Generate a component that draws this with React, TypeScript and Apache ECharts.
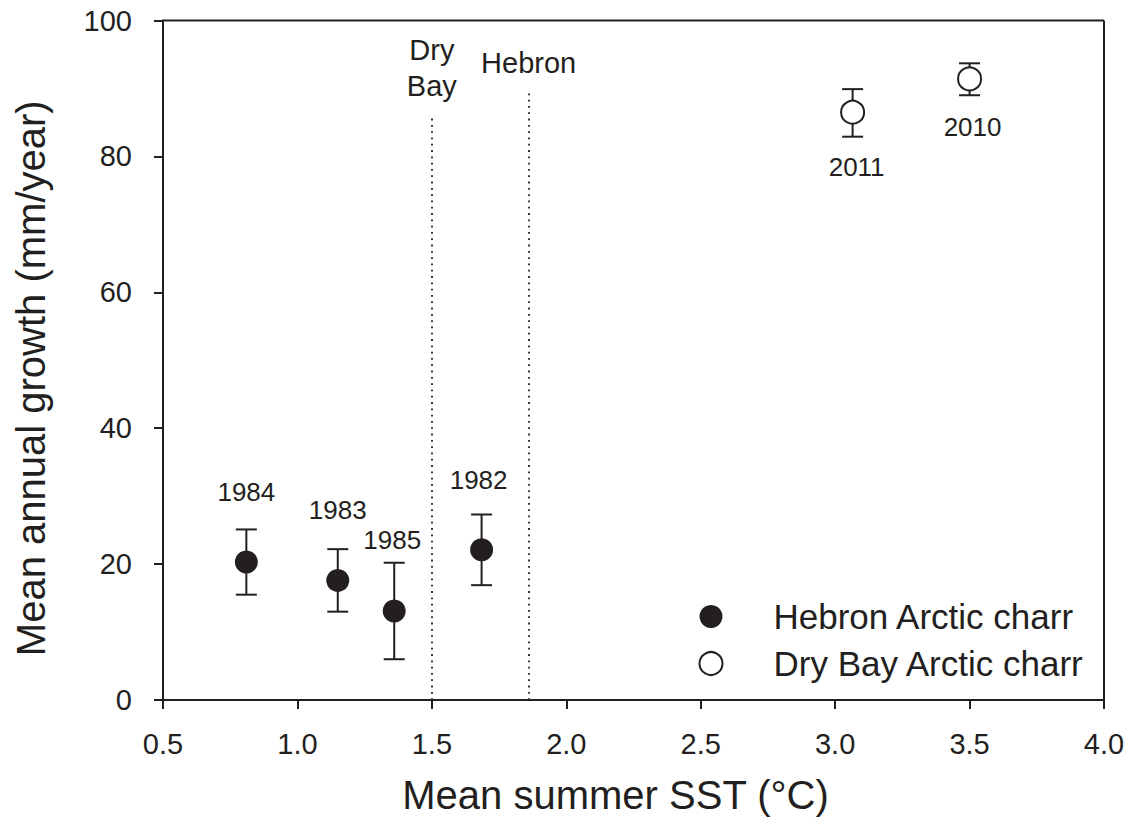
import React, { useEffect, useRef } from "react";
import * as echarts from "echarts";

const hebronYears = ["1984", "1983", "1985", "1982"];
const hebronSST = [0.81, 1.15, 1.36, 1.685];
const hebronGrowth = [20.3, 17.6, 13.1, 22.1];
const hebronLow = [15.5, 13.0, 6.0, 16.9];
const hebronHigh = [25.1, 22.2, 20.2, 27.3];

const dryBayYears = ["2011", "2010"];
const dryBaySST = [3.065, 3.5];
const dryBayGrowth = [86.5, 91.4];
const dryBayLow = [82.9, 89.0];
const dryBayHigh = [89.9, 93.7];

const refLineNames = ["Dry\nBay", "Hebron"];
const refLineSST = [1.5, 1.86];
const refLineTop = [86.2, 89.6];

const xTicks = [0.5, 1.0, 1.5, 2.0, 2.5, 3.0, 3.5, 4.0];
const yTicks = [0, 20, 40, 60, 80, 100];

const hebronLabelOffsets = [[0, -70], [0, -70], [-2, -71], [-3, -70]];
const dryBayLabelOffsets = [[4, 55], [3, 48]];

const INK = "#231f20";
const FONT = "'Liberation Sans', Arial, sans-serif";

export default function App() {
  const ref = useRef<HTMLDivElement>(null);
  useEffect(() => {
    if (!ref.current) return;
    const chart = echarts.init(ref.current, undefined, { renderer: "svg" });

    const errData = [
      ...hebronSST.map((x, i) => [x, hebronLow[i], hebronHigh[i]]),
      ...dryBaySST.map((x, i) => [x, dryBayLow[i], dryBayHigh[i]]),
    ];

    const option: any = {
      animation: false,
      textStyle: { fontFamily: FONT, color: INK },
      grid: { left: 163, right: 27, top: 20.5, bottom: 133, show: false },
      xAxis: {
        type: "value",
        min: xTicks[0],
        max: xTicks[xTicks.length - 1],
        interval: 0.5,
        name: "Mean summer SST (°C)",
        nameLocation: "middle",
        nameGap: 75,
        nameTextStyle: { fontSize: 40, color: INK, fontFamily: FONT, padding: [0, 36, 0, 0] },
        axisLine: { show: true, onZero: false, lineStyle: { color: INK, width: 2 } },
        axisTick: { show: true, inside: false, length: 9, lineStyle: { color: INK, width: 2 } },
        axisLabel: {
          fontSize: 29,
          color: INK,
          fontFamily: FONT,
          margin: 29,
          formatter: (v: number) => v.toFixed(1),
        },
        splitLine: { show: false },
      },
      yAxis: {
        type: "value",
        min: yTicks[0],
        max: yTicks[yTicks.length - 1],
        interval: 20,
        name: "Mean annual growth (mm/year)",
        nameLocation: "middle",
        nameGap: 112,
        nameRotate: 90,
        nameTextStyle: { fontSize: 40, color: INK, fontFamily: FONT, padding: [0, 36, 0, 0] },
        axisLine: { show: true, onZero: false, lineStyle: { color: INK, width: 2 } },
        axisTick: { show: true, inside: false, length: 9, lineStyle: { color: INK, width: 2 } },
        axisLabel: { fontSize: 29, color: INK, fontFamily: FONT, margin: 31 },
        splitLine: { show: false },
      },
      legend: {
        orient: "vertical",
        left: 693.5,
        top: 594,
        itemWidth: 23,
        itemHeight: 23,
        itemGap: 12,
        icon: "circle",
        data: ["Hebron Arctic charr", "Dry Bay Arctic charr"],
        textStyle: { fontSize: 35, color: INK, fontFamily: FONT, padding: [0, 0, 0, 46] },
      },
      graphic: [
        {
          type: "group",
          silent: true,
          children: [
            { type: "line", shape: { x1: 163, y1: 20.5, x2: 1104, y2: 20.5 }, style: { stroke: INK, lineWidth: 2 } },
            { type: "line", shape: { x1: 1104, y1: 20.5, x2: 1104, y2: 700 }, style: { stroke: INK, lineWidth: 2 } },
          ],
        },
      ],
      series: [
        {
          type: "custom",
          name: "errors",
          z: 1,
          data: errData,
          renderItem: (params: any, api: any) => {
            const x = api.value(0);
            const lo = api.coord([x, api.value(1)]);
            const hi = api.coord([x, api.value(2)]);
            const half = 10.5;
            const st = { stroke: INK, lineWidth: 2 };
            return {
              type: "group",
              children: [
                { type: "line", shape: { x1: lo[0], y1: lo[1], x2: hi[0], y2: hi[1] }, style: st },
                { type: "line", shape: { x1: lo[0] - half, y1: lo[1], x2: lo[0] + half, y2: lo[1] }, style: st },
                { type: "line", shape: { x1: hi[0] - half, y1: hi[1], x2: hi[0] + half, y2: hi[1] }, style: st },
              ],
            };
          },
          markLine: {
            silent: true,
            symbol: ["none", "none"],
            lineStyle: { color: INK, width: 1.8, type: [1.8, 4.5] },
            label: {
              show: true,
              position: "end",
              distance: 10,
              fontSize: 29,
              lineHeight: 36,
              color: INK,
              fontFamily: FONT,
              formatter: (p: any) => p.name,
            },
            data: refLineSST.map((x, i) => [
              { coord: [x, 0], name: refLineNames[i] },
              { coord: [x, refLineTop[i]] },
            ]),
          },
        },
        {
          type: "scatter",
          name: "Hebron Arctic charr",
          z: 3,
          symbol: "circle",
          symbolSize: 23,
          itemStyle: { color: INK, opacity: 1 },
          label: { show: true, position: "inside", fontSize: 26, color: INK, opacity: 1, fontFamily: FONT, formatter: (p: any) => hebronYears[p.dataIndex] },
          data: hebronSST.map((x, i) => ({
            value: [x, hebronGrowth[i]],
            label: { offset: hebronLabelOffsets[i] },
          })),
        },
        {
          type: "scatter",
          name: "Dry Bay Arctic charr",
          z: 3,
          symbol: "circle",
          symbolSize: 23,
          itemStyle: { color: "#ffffff", borderColor: INK, borderWidth: 2, opacity: 1 },
          label: { show: true, position: "inside", fontSize: 26, color: INK, opacity: 1, fontFamily: FONT, formatter: (p: any) => dryBayYears[p.dataIndex] },
          data: dryBaySST.map((x, i) => ({
            value: [x, dryBayGrowth[i]],
            label: { offset: dryBayLabelOffsets[i] },
          })),
        },
      ],
    };
    chart.setOption(option);
    return () => chart.dispose();
  }, []);
  return <div ref={ref} style={{ width: 1131, height: 833, position: "absolute", left: 0, top: 0, background: "#fff" }} />;
}
